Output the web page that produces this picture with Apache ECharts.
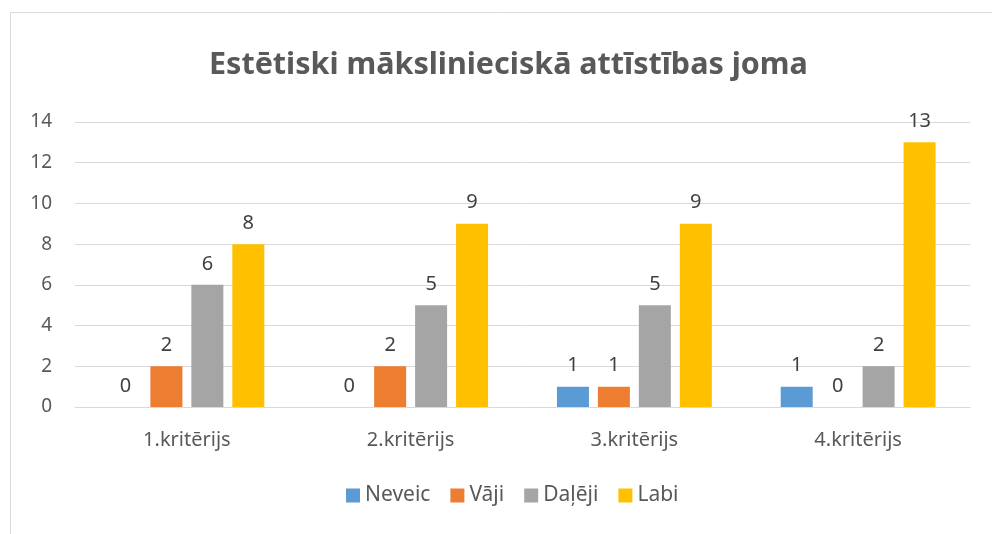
<!DOCTYPE html>
<html>
<head>
<meta charset="utf-8">
<script src="https://cdn.jsdelivr.net/npm/echarts@6/dist/echarts.min.js"></script>
<style>
  html, body { margin: 0; padding: 0; background: #fff; }
  #chart { width: 992px; height: 534px; }
</style>
</head>
<body>
<div id="chart"></div>
<script>
var categories = ['1.kritērijs', '2.kritērijs', '3.kritērijs', '4.kritērijs'];
var seriesNames = ['Neveic', 'Vāji', 'Daļēji', 'Labi'];
var neveic = [0, 0, 1, 1];
var vaji = [2, 2, 1, 0];
var daleji = [6, 5, 5, 2];
var labi = [8, 9, 9, 13];
var colors = ['#5B9BD5', '#ED7D31', '#A5A5A5', '#FFC000'];

var font = 'Noto Sans';
var values = [neveic, vaji, daleji, labi];

var series = values.map(function (v, i) {
    return {
        name: seriesNames[i],
        type: 'bar',
        data: v,
        barWidth: 32,
        barGap: '28%',
        itemStyle: { color: colors[i] },
        label: {
            show: true,
            position: 'top',
            distance: 11,
            color: '#404040',
            fontFamily: font,
            fontSize: 20
        }
    };
});

var chart = echarts.init(document.getElementById('chart'));
chart.setOption({
    animation: false,
    graphic: [{
        type: 'rect',
        shape: { x: 10.5, y: 12.5, width: 1100, height: 700 },
        style: { fill: 'none', stroke: '#d9d9d9', lineWidth: 1 },
        silent: true
    }],
    title: {
        text: 'Estētiski mākslinieciskā attīstības joma',
        left: 204,
        top: 45,
        textStyle: { fontFamily: font, fontSize: 30.5, fontWeight: 'bold', color: '#595959' }
    },
    legend: {
        bottom: 23,
        left: 341,
        itemWidth: 14,
        itemHeight: 14,
        itemGap: 20,
        icon: 'rect',
        textStyle: { fontFamily: font, fontSize: 21, color: '#595959' },
        data: seriesNames
    },
    grid: { left: 75, right: 22, top: 122, bottom: 127 },
    xAxis: {
        type: 'category',
        data: categories,
        axisTick: { show: false },
        axisLine: { lineStyle: { color: '#d9d9d9' } },
        axisLabel: { fontFamily: font, fontSize: 20, color: '#595959', margin: 23 }
    },
    yAxis: {
        type: 'value',
        min: 0,
        max: 14,
        interval: 2,
        axisLine: { show: false },
        axisTick: { show: false },
        splitLine: { lineStyle: { color: '#d9d9d9' } },
        axisLabel: { fontFamily: font, fontSize: 19, color: '#595959', margin: 23 }
    },
    series: series
});
</script>
</body>
</html>
